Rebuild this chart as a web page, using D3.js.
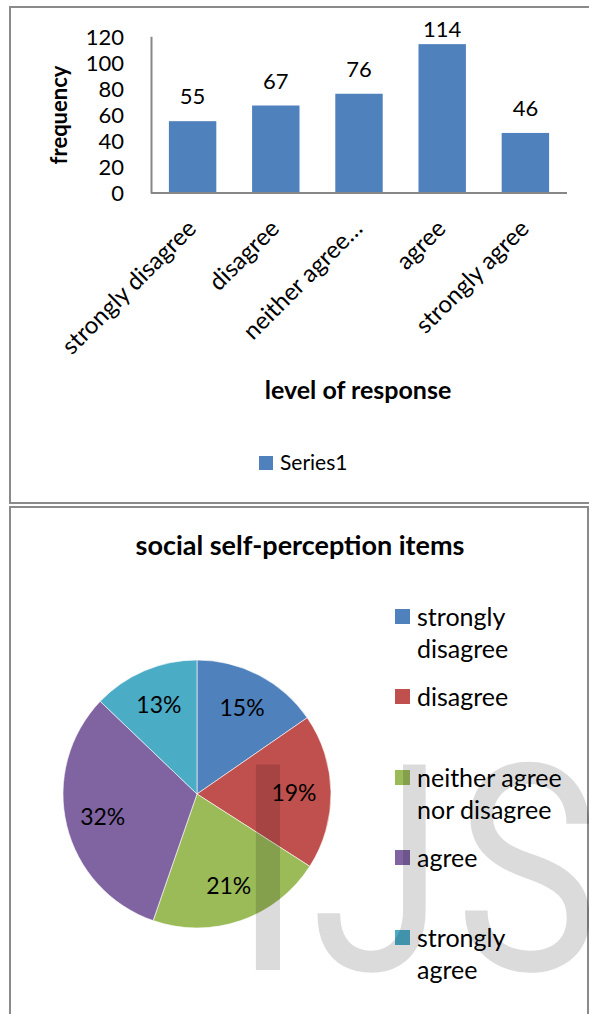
<!DOCTYPE html>
<html><head><meta charset="utf-8">
<script src="https://cdn.jsdelivr.net/npm/d3@7"></script>
<style>
html,body{margin:0;padding:0;background:#fff;}
svg{display:block;}
text{font-family:Lato,"Open Sans",sans-serif;fill:#000;}
</style></head>
<body>
<svg id="c" width="589" height="1014"></svg>
<script>
const categories = ["strongly disagree","disagree","neither agree nor disagree","agree","strongly  agree"];
const axisLabels = ["strongly disagree","disagree","neither agree…","agree","strongly  agree"];
const values = [55,67,76,114,46];
const yTicks = [0,20,40,60,80,100,120];
const seriesName = "Series1";
const pieTitle = "social self-perception items";
const pieLegend = [["strongly","disagree"],["disagree"],["neither agree","nor disagree"],["agree"],["strongly","agree"]];
const pieColors = ["#4f81bd","#c0504d","#9bbb59","#8064a2","#4bacc6"];
const watermark = ["I","J","S"];

const svg = d3.select("#c");

// panel borders
svg.append("path").attr("d","M590,7 H10 V503 H590").attr("fill","none").attr("stroke","#8a8a8a").attr("stroke-width",2);
svg.append("path").attr("d","M10,1016 V507 H588 V1016").attr("fill","none").attr("stroke","#8a8a8a").attr("stroke-width",2);

// ---------- bar chart ----------
const x = d3.scaleBand().domain(categories).range([151,567]).paddingInner(0.43).paddingOuter(0.215);
const y = d3.scaleLinear().domain([0,120]).range([193,36.3]);

const g = svg.append("g");
g.selectAll("rect.bar").data(values).join("rect")
  .attr("x",(d,i)=>x(categories[i])).attr("width",x.bandwidth())
  .attr("y",d=>y(d)).attr("height",d=>y(0)-y(d)).attr("fill","#4f81bd");

g.selectAll("text.val").data(values).join("text")
  .attr("x",(d,i)=>x(categories[i])+x.bandwidth()/2).attr("y",d=>Math.max(y(d)-17,37))
  .attr("text-anchor","middle").attr("font-size",22).text(d=>d);

// y axis
const yAxis = d3.axisLeft(y).tickValues(yTicks).tickSize(0).tickPadding(27);
const ya = g.append("g").attr("transform","translate(151,0)").call(yAxis);
ya.select(".domain").attr("stroke","#878787").attr("stroke-width",2);
ya.selectAll("text").attr("font-size",22).attr("font-family","Lato").attr("fill","#000").attr("dy","0.36em");

// x axis
const xa = g.append("g").attr("transform","translate(0,193)").call(d3.axisBottom(x).tickSize(0).tickFormat((d,i)=>axisLabels[i]));
xa.select(".domain").attr("stroke","#878787").attr("stroke-width",2).attr("d","M151,0H567");
xa.selectAll(".tick text").attr("font-size",24).attr("font-family","Lato").attr("fill","#000")
  .attr("text-anchor","end").attr("y",0).attr("dy",0)
  .attr("transform","translate(5,37) rotate(-45)");

g.append("text").attr("transform","translate(67,115) rotate(-90)").attr("text-anchor","middle")
  .attr("font-size",22).attr("font-weight","bold").text("frequency");
g.append("text").attr("x",358).attr("y",399).attr("text-anchor","middle")
  .attr("font-size",25).attr("font-weight","bold").text("level of response");

g.append("rect").attr("x",259).attr("y",456).attr("width",14).attr("height",14).attr("fill","#4f81bd");
g.append("text").attr("x",280).attr("y",470).attr("font-size",21).text(seriesName);

// ---------- pie chart ----------
svg.append("text").attr("x",300).attr("y",555).attr("text-anchor","middle")
  .attr("font-size",27).attr("font-weight","bold").text(pieTitle);

const total = d3.sum(values);
const pie = d3.pie().sort(null).value(d=>d)(values);
const arc = d3.arc().innerRadius(0).outerRadius(134);
const labelArc = d3.arc().innerRadius(97).outerRadius(97);
const pg = svg.append("g").attr("transform","translate(197,794)");
pg.selectAll("path").data(pie).join("path").attr("d",arc)
  .attr("fill",(d,i)=>pieColors[i]).attr("stroke","#fff").attr("stroke-width",0.6);
pg.selectAll("text").data(pie).join("text")
  .attr("transform",d=>`translate(${labelArc.centroid(d)})`)
  .attr("text-anchor","middle").attr("dy","0.36em").attr("font-size",23)
  .text(d=>Math.round(d.data/total*100)+"%");

// legend
const legY = [617,697,778,858,938];
const lg = svg.append("g");
pieLegend.forEach((lines,i)=>{
  lg.append("rect").attr("x",395).attr("y",legY[i]-8).attr("width",15).attr("height",15).attr("fill",pieColors[i]);
  lines.forEach((t,j)=>{
    lg.append("text").attr("x",417).attr("y",legY[i]+32*j).attr("dy","0.36em").attr("font-size",25).text(t);
  });
});

// watermark (letters placed to the reference's ink boxes)
const wmFont = 'Roboto';
const ctx = document.createElement("canvas").getContext("2d");
ctx.font = `100px ${wmFont}`;
const mI = ctx.measureText("I");
const capH = mI.actualBoundingBoxAscent;
const wmSize = 208 / capH * 100;
ctx.font = `${wmSize}px ${wmFont}`;
const targets = {I:[253,281], J:[315,428], S:[463,null]};
let lastSx = 1;
const wg = svg.append("g");
watermark.forEach(ch=>{
  const m = ctx.measureText(ch);
  const l = m.actualBoundingBoxLeft, r = m.actualBoundingBoxRight;
  const t = targets[ch];
  const sx = t[1]!=null ? (t[1]-t[0])/(l+r) : lastSx;
  lastSx = sx;
  wg.append("text").attr("transform",`translate(${t[0]},970) scale(${sx},1)`)
    .attr("x",l).attr("y",0).style("font-family",wmFont).style("font-size",wmSize+"px")
    .style("fill","#000").style("fill-opacity",0.14).text(ch);
});
</script>
</body></html>
